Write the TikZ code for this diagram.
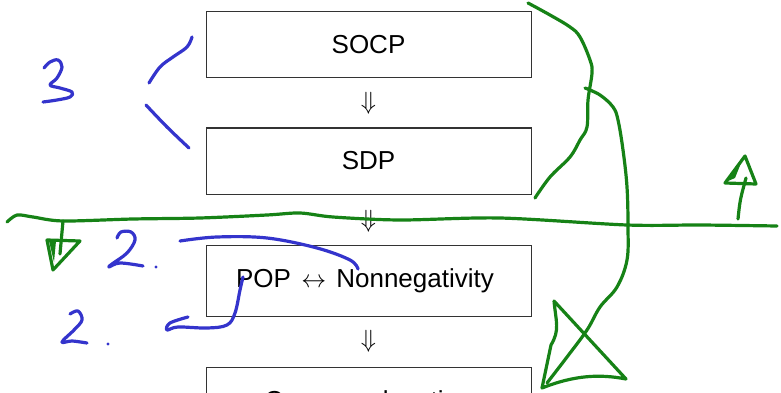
\documentclass[tikz,border=0pt]{standalone}
\usepackage{fontspec}
\setmainfont{Liberation Sans}
\begin{document}
\begin{tikzpicture}[x=1pt,y=-1pt,
  stage/.style={draw=black!80,line width=1pt,minimum width=325pt,minimum height=66pt,
    inner sep=0pt,font=\fontsize{26}{30}\selectfont},
  implies/.style={inner sep=0pt,font=\fontsize{26}{30}\selectfont},
  ink/.style={line width=3.2pt,line cap=round,line join=round},
  gink/.style={ink,draw=penGreen},
  bink/.style={ink,draw=penBlue}]
\definecolor{penGreen}{RGB}{22,130,22}
\definecolor{penBlue}{RGB}{52,52,204}
\useasboundingbox (0,0) rectangle (781,393);
\clip (0,0) rectangle (781,393);

% chain of problem classes
\node[stage] (socp) at (368.5,45) {SOCP};
\node[stage] (sdp)  at (368.5,161) {SDP};
\node[stage,minimum height=71pt] (pop) at (368.5,280.5)
  {POP\hspace{3pt} $\leftrightarrow$\hspace{3pt} Nonnegativity\kern7pt};
\node[stage] (cvx)  at (368.5,400.5) {Convex relaxation};
\node[implies] (i1) at (368.5,103) {$\Downarrow$};
\node[implies] (i2) at (368.5,221) {$\Downarrow$};
\node[implies] (i3) at (368.5,341) {$\Downarrow$};

% green pen: dividing line
\draw[gink] plot[smooth,tension=0.5] coordinates {(7,222) (17,215) (33,217) (63,221) (133,219) (200,218)
  (267,215) (300,213) (333,217) (400,220) (500,218) (627,225) (700,225) (777,226)};
% down arrow on the left
\draw[gink] (63,221) -- (60,254);
\draw[gink] (47,240) -- (80,241) -- (53,270) -- cycle;
\fill[penGreen] (49,241) -- (56,241) -- (54,262) -- cycle;
% up arrow on the right
\draw[gink] (738,219) .. controls (740,200) .. (746,178);
\draw[gink] (725,183) -- (745,156) -- (756,184) -- cycle;
\fill[penGreen] (728,181) -- (741,163) -- (735,178) -- cycle;
% loop from SOCP round past SDP
\draw[gink] plot[smooth,tension=0.6] coordinates {(528,3) (550,15) (570,27) (580,37) (590,60)
  (592,73) (588,100) (587,127) (580,140) (570,157) (550,177) (535,198)};
% long stroke down to the big arrowhead
\draw[gink] plot[smooth,tension=0.6] coordinates {(585,88) (600,95) (613,107) (618,120) (623,150)
  (627,187) (628,227) (627,260) (617,287) (600,307) (587,330) (567,357) (547,383)};
\draw[gink] (554,301) -- (626,379) .. controls (600,374) and (575,375) .. (542,388)
  -- (551,345) .. controls (560,330) and (556,322) .. (554,301);

% blue pen: the numeral 3 and its bracket
\draw[bink] plot[smooth,tension=0.6] coordinates {(44,68) (50,62) (58,60) (62,67) (57,78) (50,85)
  (60,88) (72,92) (70,97) (57,100) (43,102)};
\draw[bink] plot[smooth,tension=0.6] coordinates {(149,83) (160,67) (173,57) (187,47) (192,37)};
\draw[bink] plot[smooth,tension=0.6] coordinates {(146,105) (167,127) (189,148)};
% upper "2."
\draw[bink] plot[smooth,tension=0.6] coordinates {(117,238) (121,232) (131,232) (135,240) (127,253)
  (112,264) (109,267) (120,263) (143,266)};
\fill[penBlue] (156,267) circle (1.6pt);
\draw[bink] plot[smooth,tension=0.6] coordinates {(180,241) (217,237) (267,238) (317,248) (350,260) (358,269)};
% lower "2."
\draw[bink] plot[smooth,tension=0.6] coordinates {(70,314) (78,311) (82,320) (74,330) (62,342)
  (72,341) (87,343)};
\fill[penBlue] (108,344) circle (1.6pt);
\draw[bink] plot[smooth,tension=0.6] coordinates {(243,277) (240,290) (235,313) (227,325) (207,328)
  (178,327) (167,330) (170,323) (188,317)};
\end{tikzpicture}
\end{document}
